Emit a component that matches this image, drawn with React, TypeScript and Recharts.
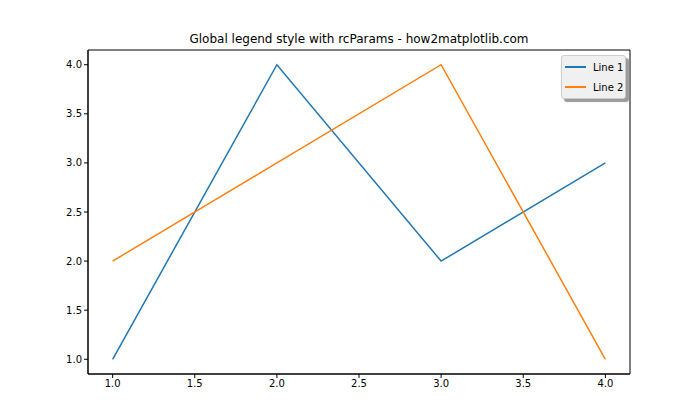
import { LineChart, Line, XAxis, YAxis, ReferenceArea } from 'recharts';

const xValues = [1, 2, 3, 4];
const line1 = [1, 4, 2, 3];
const line2 = [2, 3, 4, 1];
const tickValues = [1, 1.5, 2, 2.5, 3, 3.5, 4];

const data = xValues.map((x, i) => ({ x, line1: line1[i], line2: line2[i] }));

const FONT = 'DejaVu Sans, sans-serif';

const legendItems = [
  { name: 'Line 1', color: '#1f77b4' },
  { name: 'Line 2', color: '#ff7f0e' },
];

function LegendBox() {
  return (
    <div
      style={{
        position: 'absolute',
        left: 561,
        top: 55,
        width: 65,
        height: 44,
        boxSizing: 'border-box',
        background: '#f0f0f0',
        border: '1px solid #cccccc',
        borderRadius: 3,
        boxShadow: '3px 3px 1px #9a9a9a',
        padding: '1px 0 0 3px',
        fontFamily: FONT,
        fontSize: 10,
        color: '#000',
        whiteSpace: 'nowrap',
      }}
    >
      {legendItems.map(it => (
        <div key={it.name} style={{ display: 'flex', alignItems: 'center', height: 20 }}>
          <div style={{ width: 21, height: 1.5, background: it.color, marginRight: 7, flex: 'none' }} />
          <span>{it.name}</span>
        </div>
      ))}
    </div>
  );
}

export default function App() {
  return (
    <div style={{ position: 'absolute', left: 0, top: 0, width: 700, height: 420, background: '#fff' }}>
      <div
        style={{
          position: 'absolute',
          left: 88,
          width: 542,
          top: 32,
          textAlign: 'center',
          fontFamily: FONT,
          fontSize: 12,
        }}
      >
        Global legend style with rcParams - how2matplotlib.com
      </div>
      <LineChart width={700} height={420} data={data} margin={{ top: 50, right: 70, bottom: 0, left: 0 }}>
        <XAxis
          dataKey="x"
          type="number"
          domain={[0.85, 4.15]}
          ticks={tickValues}
          tickFormatter={(v: number) => v.toFixed(1)}
          allowDataOverflow
          stroke="#000"
          tickSize={4}
          tick={{ fill: '#000', fontSize: 10, fontFamily: FONT }}
          height={46}
        />
        <YAxis
          type="number"
          domain={[0.85, 4.15]}
          ticks={tickValues}
          tickFormatter={(v: number) => v.toFixed(1)}
          allowDataOverflow
          stroke="#000"
          tickSize={4}
          tick={{ fill: '#000', fontSize: 10, fontFamily: FONT }}
          width={88}
        />
        <ReferenceArea x1={0.85} x2={4.15} y1={0.85} y2={4.15} fill="none" stroke="#000" strokeWidth={1} ifOverflow="visible" />
        <Line dataKey="line1" name="Line 1" stroke="#1f77b4" strokeWidth={1.5} dot={false} isAnimationActive={false} />
        <Line dataKey="line2" name="Line 2" stroke="#ff7f0e" strokeWidth={1.5} dot={false} isAnimationActive={false} />
      </LineChart>
      <LegendBox />
    </div>
  );
}
